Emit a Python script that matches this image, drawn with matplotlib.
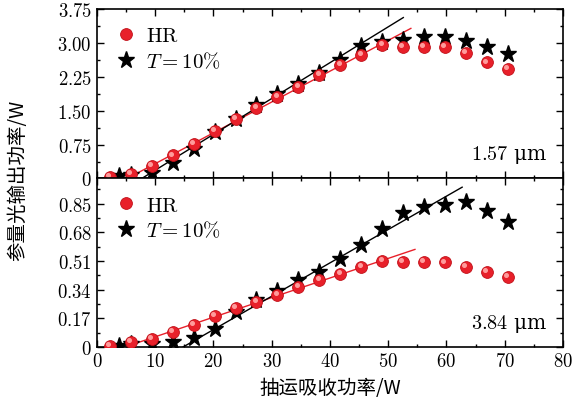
import matplotlib
matplotlib.use("Agg")
import matplotlib.pyplot as plt
import numpy as np
from matplotlib.ticker import FixedLocator, MultipleLocator, FuncFormatter
from matplotlib.transforms import ScaledTranslation

plt.rcParams["mathtext.fontset"] = "cm"
plt.rcParams["font.family"] = ["DejaVu Serif"]

# pump absorbed power (W)
x_hr = [2.2, 5.8, 9.4, 13.0, 16.6, 20.2, 23.8, 27.4, 31.0, 34.6,
        38.2, 41.8, 45.4, 49.0, 52.6, 56.2, 59.8, 63.4, 67.0, 70.6]
x_t10 = [3.8, 5.8, 9.4, 13.0, 16.6, 20.2, 23.8, 27.4, 31.0, 34.6,
         38.2, 41.8, 45.4, 49.0, 52.6, 56.2, 59.8, 63.4, 67.0, 70.6]

# 1.57 um output (W)
y157_hr = [0.04, 0.10, 0.27, 0.51, 0.77, 1.05, 1.31, 1.57, 1.80, 2.03,
           2.29, 2.51, 2.73, 2.95, 2.91, 2.91, 2.91, 2.77, 2.57, 2.42]
y157_t10 = [0.05, 0.08, 0.12, 0.35, 0.66, 1.03, 1.31, 1.62, 1.88, 2.10,
            2.33, 2.62, 2.93, 3.02, 3.07, 3.14, 3.13, 3.05, 2.91, 2.75]

# 3.84 um output (W)
y384_hr = [0.008, 0.028, 0.050, 0.091, 0.133, 0.183, 0.232, 0.27, 0.31, 0.355,
           0.40, 0.435, 0.474, 0.512, 0.506, 0.506, 0.502, 0.474, 0.444, 0.418]
y384_t10 = [0.008, 0.018, 0.020, 0.032, 0.055, 0.107, 0.206, 0.276, 0.331, 0.399,
            0.448, 0.524, 0.603, 0.698, 0.795, 0.832, 0.845, 0.858, 0.808, 0.742]

# linear fits: (threshold W, slope, end W)
fit157_hr = (5.2, 0.0682, 53.9)
fit157_t10 = (7.7, 0.0793, 52.6)
fit384_hr = (4.8, 0.01163, 54.6)
fit384_t10 = (14.8, 0.0198, 62.7)

yticks157 = [0, 0.75, 1.50, 2.25, 3.00, 3.75]
yticks384 = [0, 0.17, 0.34, 0.51, 0.68, 0.85]
xticks = [0, 10, 20, 30, 40, 50, 60, 70, 80]

RED = "#e8202a"
CJK = ["Noto Sans CJK SC", "DejaVu Sans"]


def tex_fmt(fmt):
    def f(v, pos):
        if abs(v) < 1e-9:
            return "$0$"
        return "$" + fmt.format(v) + "$"
    return FuncFormatter(f)


def draw_fit(ax, fit, color):
    th, k, x_end = fit
    xs = np.array([th, x_end])
    ax.plot(xs, k * (xs - th), color=color, lw=1.0, zorder=2)


def draw_points(ax, fig, x, y_hr, y_t10):
    ax.plot(x_t10, y_t10, "*", color="black", ms=12.5, ls="none", zorder=3,
            label=r"$T = 10\%$")
    ax.plot(x, y_hr, "o", mfc=RED, mec="#c01018", mew=0.6, ms=8.5,
            ls="none", zorder=4, label=r"$\mathrm{HR}$")
    shine = ax.transData + ScaledTranslation(-1.3 / 72, 1.3 / 72, fig.dpi_scale_trans)
    ax.plot(x, y_hr, "o", color="#ff9c9c", ms=2.6, ls="none", zorder=5,
            transform=shine)


def style_axis(ax, yticks, ystep_minor, fmt):
    ax.set_xlim(0, 80)
    ax.xaxis.set_major_locator(FixedLocator(xticks))
    ax.xaxis.set_minor_locator(MultipleLocator(5))
    ax.yaxis.set_major_locator(FixedLocator(yticks))
    ax.yaxis.set_minor_locator(MultipleLocator(ystep_minor))
    ax.yaxis.set_major_formatter(tex_fmt(fmt))
    ax.xaxis.set_major_formatter(tex_fmt("{:.0f}"))
    ax.tick_params(which="both", direction="in", top=True, right=True,
                   labelsize=13.5, width=1.0)
    ax.tick_params(which="major", length=5)
    ax.tick_params(which="minor", length=2.5)
    for s in ax.spines.values():
        s.set_linewidth(1.2)


def legend(ax):
    h, l = ax.get_legend_handles_labels()
    order = [1, 0]
    ax.legend([h[i] for i in order], [l[i] for i in order], loc="upper left",
              frameon=False, fontsize=15, handletextpad=0.25,
              borderaxespad=0.3, labelspacing=0.25, handlelength=1.4,
              bbox_to_anchor=(0.0, 0.985))


fig = plt.figure(figsize=(5.87, 4.10), dpi=100)
ax1 = fig.add_axes([0.165, 0.5622, 0.794, 0.4134])
ax2 = fig.add_axes([0.165, 0.1512, 0.794, 0.4110])

# 1.57 um
draw_fit(ax1, fit157_hr, "#e8202a")
draw_fit(ax1, fit157_t10, "black")
draw_points(ax1, fig, x_hr, y157_hr, y157_t10)
style_axis(ax1, yticks157, 0.375, "{:.2f}")
ax1.set_ylim(0, 3.75)
ax1.tick_params(labelbottom=False)
legend(ax1)
ax1.text(0.966, 0.08, "$1.57$ μm", transform=ax1.transAxes, ha="right",
         va="bottom", fontsize=14.5)

# 3.84 um
draw_fit(ax2, fit384_hr, "#e8202a")
draw_fit(ax2, fit384_t10, "black")
draw_points(ax2, fig, x_hr, y384_hr, y384_t10)
style_axis(ax2, yticks384, 0.085, "{:.2f}")
ax2.set_ylim(0, 1.0)
legend(ax2)
ax2.text(0.966, 0.08, "$3.84$ μm", transform=ax2.transAxes, ha="right",
         va="bottom", fontsize=14.5)

ax2.set_xlabel("抽运吸收功率/W", family=CJK, fontsize=14, labelpad=5)
fig.text(0.03, 0.56, "参量光输出功率/W", rotation=90, ha="center", va="center",
         family=CJK, fontsize=14)

fig.savefig("out.png", dpi=100)
